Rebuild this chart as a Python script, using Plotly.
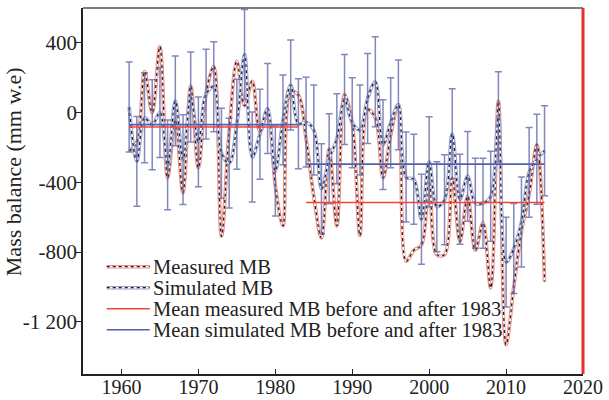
import plotly.graph_objects as go

years = list(range(1961, 2016))
measured = [-220, -170, 235, 0, 378, -375, -40, -460, 152, -318,
            110, 266, -710, -110, 294, 40, 180, -110, -10, -420,
            -650, 120, 100, -150, -480, -720, -210, -650, 103, -60,
            -705, 17, -30, -375, -130, 46, -853, -790, -760, -340,
            -815, -815, -375, -740, -480, -790, -633, -1006, 65, -1332,
            -1000, -680, -470, -184, -970]
simulated = [32, -280, -30, -70, 0, -300, 67, -270, 89, -168,
             106, 148, -233, -290, -67, 333, -255, -124, 23, -335,
             -42, 158, -64, -55, -100, -437, -265, -150, 75, -58,
             -100, 81, 177, -184, -58, 44, -370, -383, -612, -282,
             -540, -500, -122, -497, -366, -520, -520, -480, -24, -858,
             -780, -628, -343, -268, -219]
sim_error = 258

mean_periods_x = [[1961, 1983], [1984, 2015]]
mean_measured = [-83, -516]
mean_simulated = [-69, -296]

x_ticks = [1960, 1970, 1980, 1990, 2000, 2010, 2020]
y_ticks = [400, 0, -400, -800, -1200]
y_ticklabels = ["400", "0", "-400", "-800", "-1 200"]

legend_labels = ["Measured MB", "Simulated MB",
                 "Mean measured MB before and after 1983",
                 "Mean simulated MB before and after 1983"]

RED = "#f08a80"
BLUE = "#9aa0d0"
RED_MEAN = "#f0443c"
BLUE_MEAN = "#5560a8"
FONT = "Liberation Serif"

fig = go.Figure()

def tube(x, y, color):
    fig.add_trace(go.Scatter(x=x, y=y, mode="lines", line=dict(color=color, width=3.6, shape="spline", smoothing=1),
                             hoverinfo="skip", showlegend=False))
    fig.add_trace(go.Scatter(x=x, y=y, mode="lines", line=dict(color="white", width=1.6, shape="spline", smoothing=1),
                             hoverinfo="skip", showlegend=False))
    fig.add_trace(go.Scatter(x=x, y=y, mode="lines", line=dict(color="#222", width=1.3, dash="dot", shape="spline", smoothing=1),
                             hoverinfo="skip", showlegend=False))

tube(years, measured, RED)
tube(years, simulated, BLUE)

fig.add_trace(go.Scatter(x=years, y=simulated, mode="markers", marker=dict(size=0.1, color=BLUE_MEAN),
                         error_y=dict(type="constant", value=sim_error, color="rgba(85,96,168,0.75)",
                                      thickness=1.5, width=3.5),
                         showlegend=False, hoverinfo="skip"))

for px, m in zip(mean_periods_x, mean_measured):
    fig.add_trace(go.Scatter(x=px, y=[m, m], mode="lines", line=dict(color=RED_MEAN, width=1.6),
                             showlegend=False, hoverinfo="skip"))
for px, m in zip(mean_periods_x, mean_simulated):
    fig.add_trace(go.Scatter(x=px, y=[m, m], mode="lines", line=dict(color=BLUE_MEAN, width=1.6),
                             showlegend=False, hoverinfo="skip"))

shapes = []
shapes.append(dict(type="line", xref="paper", yref="paper", x0=0, x1=1, y0=1, y1=1,
                   line=dict(color="#555", width=1.5)))
shapes.append(dict(type="line", xref="paper", yref="paper", x0=1, x1=1, y0=0, y1=1,
                   line=dict(color="#e8302c", width=3)))

W, H = 499.4, 366.0
def px2x(p):
    return (p - 83.3) / W
def py2y(p):
    return (374.3 - p) / H

rows = [267, 288, 309, 330]
annotations = []
styles = [("tube", RED), ("tube", BLUE), ("line", RED_MEAN), ("line", BLUE_MEAN)]
for r, lab, (kind, col) in zip(rows, legend_labels, styles):
    yy = py2y(r)
    x0, x1 = px2x(107), px2x(150)
    if kind == "tube":
        shapes.append(dict(type="line", xref="paper", yref="paper", x0=x0, x1=x1, y0=yy, y1=yy,
                           line=dict(color=col, width=3.6)))
        shapes.append(dict(type="line", xref="paper", yref="paper", x0=x0, x1=x1, y0=yy, y1=yy,
                           line=dict(color="white", width=1.6)))
        shapes.append(dict(type="line", xref="paper", yref="paper", x0=x0, x1=x1, y0=yy, y1=yy,
                           line=dict(color="#222", width=1.2, dash="dot")))
    else:
        shapes.append(dict(type="line", xref="paper", yref="paper", x0=x0, x1=x1, y0=yy, y1=yy,
                           line=dict(color=col, width=1.6)))
    annotations.append(dict(text=lab, xref="paper", yref="paper", x=px2x(152), y=yy,
                            xanchor="left", yanchor="middle", showarrow=False, borderpad=0,
                            font=dict(family=FONT, size=20.5, color="#222")))

annotations.append(dict(text="Mass balance (mm w.e)", textangle=-90, xref="paper", yref="paper",
                        x=0, xshift=-70, y=py2y(172.5), xanchor="center", yanchor="middle",
                        showarrow=False, font=dict(family=FONT, size=22, color="#222")))

fig.update_layout(
    width=609, height=400,
    margin=dict(l=83, r=26, t=8, b=26),
    paper_bgcolor="white", plot_bgcolor="white",
    font=dict(family=FONT, size=21, color="#222"),
    showlegend=False,
    shapes=shapes, annotations=annotations,
    xaxis=dict(range=[1955, 2020], tickvals=x_ticks, ticks="inside", ticklen=5, tickwidth=1.3,
               tickcolor="#222", showline=True, linecolor="#222", linewidth=1.6,
               ticklabelstandoff=-6, automargin=False,
               showgrid=False, zeroline=False, tickfont=dict(family=FONT, size=20, color="#222")),
    yaxis=dict(range=[-1500, 600], tickvals=y_ticks, ticktext=y_ticklabels, ticks="outside",
               ticklen=5, tickwidth=1.3, tickcolor="#222", showline=True, linecolor="#222",
               linewidth=1.6, showgrid=False, zeroline=False, ticklabelstandoff=-5, automargin=False,
               tickfont=dict(family=FONT, size=21, color="#222")),
)

fig.write_html("out.html")
